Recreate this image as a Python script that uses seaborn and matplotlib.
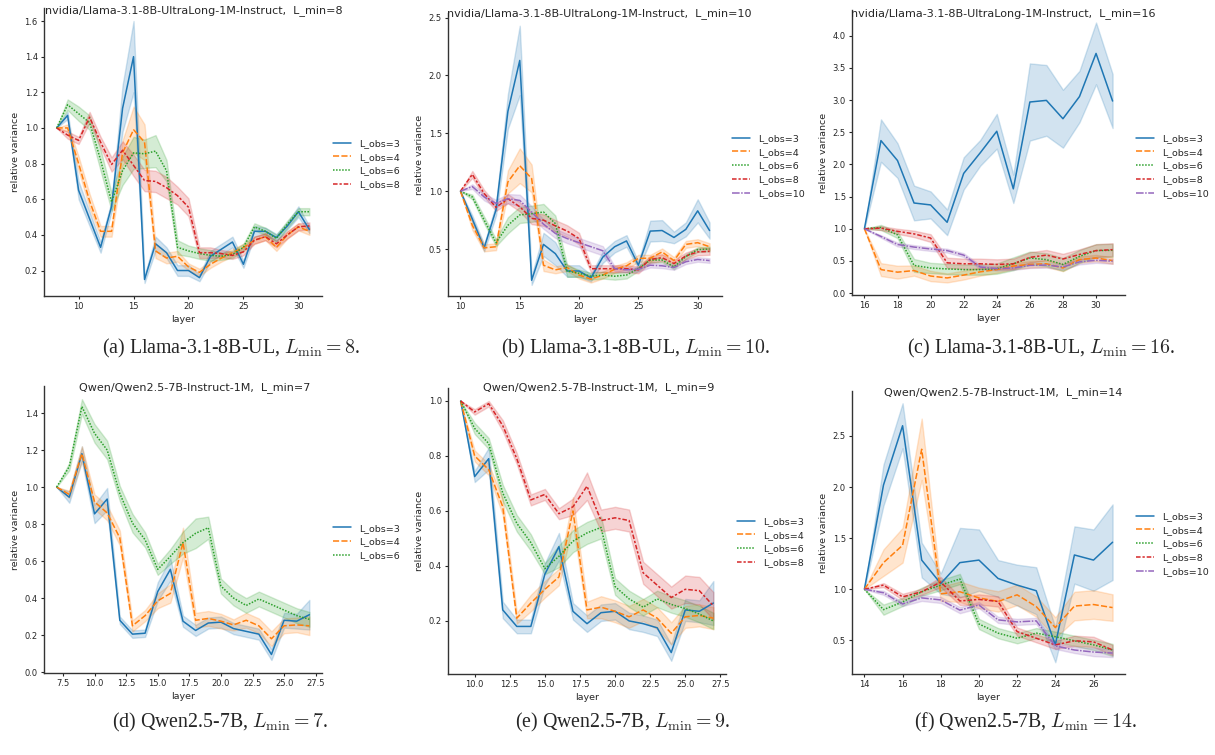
import matplotlib
matplotlib.use("Agg")
import matplotlib.pyplot as plt
import pandas as pd
import seaborn as sns

# ---- data (mean curve and half-width of shaded band) ----
a_layers = list(range(8, 32))
a_obs3 = [1.0, 1.07, 0.65, 0.49, 0.33, 0.56, 1.11, 1.40, 0.15, 0.35, 0.30, 0.20, 0.20, 0.16, 0.28, 0.32, 0.36, 0.235, 0.42, 0.42, 0.385, 0.45, 0.53, 0.43]
a_obs3_band = [0, 0.02, 0.05, 0.04, 0.03, 0.03, 0.13, 0.2, 0.02, 0.04, 0.03, 0.03, 0.03, 0.02, 0.03, 0.03, 0.03, 0.02, 0.03, 0.02, 0.02, 0.02, 0.03, 0.02]
a_obs4 = [1.0, 1.0, 0.80, 0.59, 0.42, 0.42, 0.86, 0.99, 0.92, 0.31, 0.27, 0.28, 0.22, 0.19, 0.235, 0.27, 0.30, 0.33, 0.37, 0.39, 0.33, 0.40, 0.445, 0.42]
a_obs4_band = [0, 0.02, 0.04, 0.04, 0.03, 0.03, 0.07, 0.13, 0.1, 0.04, 0.03, 0.03, 0.02, 0.02, 0.02, 0.02, 0.02, 0.02, 0.02, 0.02, 0.02, 0.02, 0.02, 0.02]
a_obs6 = [1.0, 1.13, 1.08, 1.03, 0.82, 0.585, 0.76, 0.86, 0.855, 0.87, 0.76, 0.33, 0.31, 0.295, 0.285, 0.28, 0.29, 0.33, 0.445, 0.42, 0.38, 0.46, 0.53, 0.53]
a_obs6_band = [0, 0.03, 0.04, 0.04, 0.06, 0.05, 0.08, 0.09, 0.08, 0.09, 0.06, 0.04, 0.03, 0.03, 0.03, 0.02, 0.02, 0.02, 0.02, 0.02, 0.02, 0.02, 0.02, 0.02]
a_obs8 = [1.0, 0.96, 0.93, 1.06, 0.92, 0.795, 0.875, 0.79, 0.705, 0.70, 0.665, 0.62, 0.555, 0.30, 0.30, 0.295, 0.285, 0.305, 0.37, 0.39, 0.35, 0.40, 0.445, 0.45]
a_obs8_band = [0, 0.02, 0.02, 0.03, 0.03, 0.04, 0.05, 0.06, 0.06, 0.06, 0.06, 0.05, 0.05, 0.03, 0.03, 0.02, 0.02, 0.02, 0.02, 0.02, 0.02, 0.02, 0.02, 0.02]

b_layers = list(range(10, 32))
b_obs3 = [1.0, 0.76, 0.51, 0.84, 1.69, 2.13, 0.23, 0.54, 0.46, 0.31, 0.31, 0.25, 0.43, 0.52, 0.57, 0.36, 0.655, 0.66, 0.60, 0.67, 0.83, 0.66]
b_obs3_band = [0, 0.03, 0.03, 0.05, 0.15, 0.3, 0.04, 0.1, 0.1, 0.05, 0.05, 0.03, 0.05, 0.05, 0.05, 0.03, 0.09, 0.09, 0.05, 0.06, 0.1, 0.07]
b_obs4 = [1.0, 0.705, 0.51, 0.52, 1.08, 1.22, 1.11, 0.36, 0.32, 0.34, 0.275, 0.24, 0.275, 0.325, 0.355, 0.42, 0.42, 0.475, 0.40, 0.54, 0.555, 0.52]
b_obs4_band = [0, 0.04, 0.03, 0.03, 0.1, 0.15, 0.12, 0.05, 0.03, 0.03, 0.03, 0.03, 0.03, 0.03, 0.03, 0.03, 0.03, 0.03, 0.03, 0.03, 0.03, 0.03]
b_obs6 = [1.0, 0.95, 0.75, 0.555, 0.705, 0.795, 0.805, 0.82, 0.72, 0.31, 0.29, 0.265, 0.275, 0.265, 0.275, 0.33, 0.405, 0.405, 0.345, 0.435, 0.495, 0.50]
b_obs6_band = [0, 0.02, 0.03, 0.03, 0.07, 0.07, 0.07, 0.07, 0.07, 0.05, 0.03, 0.03, 0.03, 0.03, 0.03, 0.02, 0.02, 0.02, 0.02, 0.02, 0.02, 0.02]
b_obs8 = [1.0, 1.145, 0.98, 0.86, 0.935, 0.865, 0.765, 0.75, 0.70, 0.655, 0.59, 0.33, 0.33, 0.33, 0.33, 0.32, 0.41, 0.425, 0.375, 0.44, 0.475, 0.48]
b_obs8_band = [0, 0.03, 0.03, 0.03, 0.04, 0.04, 0.05, 0.05, 0.05, 0.05, 0.05, 0.03, 0.03, 0.03, 0.03, 0.03, 0.03, 0.03, 0.03, 0.03, 0.03, 0.03]
b_obs10 = [1.0, 1.04, 0.95, 0.895, 0.935, 0.92, 0.82, 0.715, 0.635, 0.59, 0.555, 0.52, 0.485, 0.33, 0.32, 0.325, 0.36, 0.355, 0.34, 0.39, 0.41, 0.40]
b_obs10_band = [0, 0.02, 0.03, 0.03, 0.04, 0.05, 0.05, 0.04, 0.04, 0.04, 0.04, 0.04, 0.04, 0.02, 0.02, 0.02, 0.02, 0.02, 0.02, 0.02, 0.02, 0.02]

c_layers = list(range(16, 32))
c_obs3 = [1.0, 2.37, 2.06, 1.40, 1.37, 1.10, 1.86, 2.18, 2.515, 1.62, 2.97, 2.995, 2.71, 3.055, 3.725, 2.985]
c_obs3_band = [0, 0.33, 0.27, 0.27, 0.21, 0.2, 0.25, 0.2, 0.27, 0.22, 0.6, 0.55, 0.45, 0.4, 0.48, 0.42]
c_obs4 = [1.0, 0.365, 0.325, 0.35, 0.265, 0.235, 0.28, 0.33, 0.365, 0.42, 0.445, 0.455, 0.39, 0.52, 0.545, 0.505]
c_obs4_band = [0, 0.1, 0.1, 0.08, 0.08, 0.07, 0.07, 0.06, 0.05, 0.05, 0.05, 0.05, 0.05, 0.05, 0.05, 0.05]
c_obs6 = [1.0, 1.02, 0.905, 0.43, 0.39, 0.375, 0.365, 0.365, 0.38, 0.455, 0.545, 0.52, 0.445, 0.57, 0.66, 0.665]
c_obs6_band = [0, 0.04, 0.05, 0.1, 0.08, 0.08, 0.08, 0.08, 0.08, 0.1, 0.1, 0.1, 0.1, 0.1, 0.1, 0.1]
c_obs8 = [1.0, 1.01, 0.96, 0.92, 0.855, 0.47, 0.455, 0.455, 0.445, 0.455, 0.555, 0.59, 0.53, 0.60, 0.66, 0.675]
c_obs8_band = [0, 0.03, 0.04, 0.05, 0.06, 0.08, 0.08, 0.08, 0.08, 0.08, 0.08, 0.08, 0.08, 0.08, 0.1, 0.1]
c_obs10 = [1.0, 0.88, 0.755, 0.715, 0.685, 0.66, 0.59, 0.405, 0.38, 0.39, 0.43, 0.435, 0.405, 0.485, 0.51, 0.495]
c_obs10_band = [0, 0.02, 0.03, 0.03, 0.03, 0.03, 0.03, 0.03, 0.03, 0.03, 0.04, 0.04, 0.04, 0.04, 0.04, 0.04]

d_layers = list(range(7, 28))
d_obs3 = [1.0, 0.945, 1.18, 0.855, 0.935, 0.28, 0.205, 0.21, 0.435, 0.555, 0.275, 0.225, 0.265, 0.27, 0.235, 0.22, 0.205, 0.095, 0.28, 0.275, 0.31]
d_obs3_band = [0, 0.03, 0.04, 0.05, 0.06, 0.02, 0.02, 0.02, 0.05, 0.06, 0.03, 0.03, 0.03, 0.03, 0.03, 0.03, 0.03, 0.03, 0.04, 0.04, 0.08]
d_obs4 = [1.0, 0.96, 1.18, 0.92, 0.86, 0.725, 0.25, 0.305, 0.385, 0.425, 0.70, 0.28, 0.29, 0.275, 0.255, 0.28, 0.25, 0.18, 0.25, 0.255, 0.25]
d_obs4_band = [0, 0.02, 0.04, 0.04, 0.04, 0.04, 0.03, 0.03, 0.04, 0.05, 0.08, 0.04, 0.04, 0.04, 0.03, 0.04, 0.04, 0.04, 0.04, 0.04, 0.05]
d_obs6 = [1.0, 1.11, 1.435, 1.29, 1.20, 0.965, 0.805, 0.715, 0.555, 0.625, 0.70, 0.75, 0.78, 0.465, 0.40, 0.36, 0.395, 0.365, 0.335, 0.305, 0.285]
d_obs6_band = [0, 0.02, 0.04, 0.05, 0.05, 0.04, 0.05, 0.04, 0.03, 0.04, 0.06, 0.08, 0.06, 0.04, 0.04, 0.04, 0.04, 0.04, 0.04, 0.04, 0.04]

e_layers = list(range(9, 28))
e_obs3 = [1.0, 0.725, 0.79, 0.24, 0.18, 0.18, 0.37, 0.47, 0.235, 0.19, 0.23, 0.235, 0.20, 0.19, 0.175, 0.085, 0.24, 0.235, 0.265]
e_obs3_band = [0, 0.02, 0.04, 0.03, 0.025, 0.025, 0.04, 0.05, 0.03, 0.03, 0.03, 0.03, 0.03, 0.03, 0.03, 0.03, 0.04, 0.04, 0.08]
e_obs4 = [1.0, 0.80, 0.75, 0.615, 0.21, 0.265, 0.315, 0.36, 0.60, 0.24, 0.25, 0.235, 0.215, 0.24, 0.21, 0.155, 0.215, 0.22, 0.21]
e_obs4_band = [0, 0.02, 0.02, 0.03, 0.02, 0.03, 0.03, 0.03, 0.05, 0.03, 0.04, 0.04, 0.04, 0.04, 0.04, 0.04, 0.04, 0.04, 0.04]
e_obs6 = [1.0, 0.90, 0.845, 0.665, 0.555, 0.485, 0.39, 0.435, 0.49, 0.52, 0.54, 0.325, 0.28, 0.25, 0.28, 0.26, 0.245, 0.225, 0.20]
e_obs6_band = [0, 0.02, 0.02, 0.03, 0.03, 0.03, 0.02, 0.04, 0.04, 0.04, 0.04, 0.03, 0.03, 0.03, 0.03, 0.03, 0.03, 0.03, 0.03]
e_obs8 = [1.0, 0.96, 0.99, 0.91, 0.79, 0.64, 0.66, 0.59, 0.615, 0.69, 0.565, 0.575, 0.565, 0.375, 0.33, 0.285, 0.315, 0.31, 0.255]
e_obs8_band = [0, 0.01, 0.01, 0.02, 0.02, 0.02, 0.02, 0.02, 0.03, 0.05, 0.04, 0.04, 0.04, 0.04, 0.04, 0.04, 0.05, 0.05, 0.05]

f_layers = list(range(14, 28))
f_obs3 = [1.0, 2.02, 2.60, 1.285, 1.055, 1.26, 1.285, 1.105, 1.04, 0.985, 0.455, 1.335, 1.285, 1.46]
f_obs3_band = [0, 0.2, 0.22, 0.17, 0.1, 0.34, 0.3, 0.18, 0.2, 0.23, 0.17, 0.28, 0.3, 0.37]
f_obs4 = [1.0, 1.26, 1.43, 2.37, 0.955, 0.975, 0.915, 0.88, 0.945, 0.83, 0.625, 0.835, 0.85, 0.82]
f_obs4_band = [0, 0.13, 0.17, 0.3, 0.07, 0.1, 0.1, 0.1, 0.1, 0.1, 0.1, 0.14, 0.14, 0.13]
f_obs6 = [1.0, 0.80, 0.875, 0.975, 1.04, 1.10, 0.66, 0.57, 0.52, 0.57, 0.535, 0.495, 0.455, 0.405]
f_obs6_band = [0, 0.05, 0.04, 0.04, 0.05, 0.05, 0.05, 0.05, 0.05, 0.05, 0.05, 0.05, 0.05, 0.06]
f_obs8 = [1.0, 1.04, 0.925, 0.975, 1.07, 0.885, 0.90, 0.88, 0.585, 0.52, 0.455, 0.495, 0.485, 0.405]
f_obs8_band = [0, 0.02, 0.03, 0.03, 0.05, 0.04, 0.05, 0.05, 0.04, 0.04, 0.04, 0.05, 0.05, 0.05]
f_obs10 = [1.0, 0.965, 0.855, 0.915, 0.895, 0.795, 0.845, 0.70, 0.68, 0.69, 0.445, 0.405, 0.385, 0.375]
f_obs10_band = [0, 0.02, 0.02, 0.03, 0.03, 0.03, 0.03, 0.03, 0.03, 0.03, 0.03, 0.03, 0.04, 0.04]

titles = [
    "nvidia/Llama-3.1-8B-UltraLong-1M-Instruct,  L_min=8",
    "nvidia/Llama-3.1-8B-UltraLong-1M-Instruct,  L_min=10",
    "nvidia/Llama-3.1-8B-UltraLong-1M-Instruct,  L_min=16",
    "Qwen/Qwen2.5-7B-Instruct-1M,  L_min=7",
    "Qwen/Qwen2.5-7B-Instruct-1M,  L_min=9",
    "Qwen/Qwen2.5-7B-Instruct-1M,  L_min=14",
]
captions = [
    r"(a) Llama-3.1-8B-UL, $L_{\min}=8$.",
    r"(b) Llama-3.1-8B-UL, $L_{\min}=10$.",
    r"(c) Llama-3.1-8B-UL, $L_{\min}=16$.",
    r"(d) Qwen2.5-7B, $L_{\min}=7$.",
    r"(e) Qwen2.5-7B, $L_{\min}=9$.",
    r"(f) Qwen2.5-7B, $L_{\min}=14$.",
]

panels = [
    (a_layers, [("L_obs=3", a_obs3, a_obs3_band), ("L_obs=4", a_obs4, a_obs4_band),
                ("L_obs=6", a_obs6, a_obs6_band), ("L_obs=8", a_obs8, a_obs8_band)]),
    (b_layers, [("L_obs=3", b_obs3, b_obs3_band), ("L_obs=4", b_obs4, b_obs4_band),
                ("L_obs=6", b_obs6, b_obs6_band), ("L_obs=8", b_obs8, b_obs8_band),
                ("L_obs=10", b_obs10, b_obs10_band)]),
    (c_layers, [("L_obs=3", c_obs3, c_obs3_band), ("L_obs=4", c_obs4, c_obs4_band),
                ("L_obs=6", c_obs6, c_obs6_band), ("L_obs=8", c_obs8, c_obs8_band),
                ("L_obs=10", c_obs10, c_obs10_band)]),
    (d_layers, [("L_obs=3", d_obs3, d_obs3_band), ("L_obs=4", d_obs4, d_obs4_band),
                ("L_obs=6", d_obs6, d_obs6_band)]),
    (e_layers, [("L_obs=3", e_obs3, e_obs3_band), ("L_obs=4", e_obs4, e_obs4_band),
                ("L_obs=6", e_obs6, e_obs6_band), ("L_obs=8", e_obs8, e_obs8_band)]),
    (f_layers, [("L_obs=3", f_obs3, f_obs3_band), ("L_obs=4", f_obs4, f_obs4_band),
                ("L_obs=6", f_obs6, f_obs6_band), ("L_obs=8", f_obs8, f_obs8_band),
                ("L_obs=10", f_obs10, f_obs10_band)]),
]

# ---- layout (pixels of the 1215x755 picture) ----
W, H = 1215, 755
# left, top, right, bottom
boxes = [(44, 8, 322, 296), (448, 13, 722, 296), (852, 10, 1125, 295),
         (44, 386, 322, 673), (448, 388, 726, 674), (852, 391, 1125, 674)]
ylims = [(0.057, 1.673), (0.094, 2.54), (-0.03, 4.4),
         (-0.005, 1.546), (0.007, 1.047), (0.17, 2.94)]
title_pos = [(194, 11), (599, 14), (1003, 14), (195, 388), (599, 388), (1003, 393)]
legend_pos = [(324, 164), (723, 166), (1127, 166), (324, 542), (728, 542), (1127, 544)]
caption_pos = [(231, 348), (636, 348), (1041, 348), (220, 722), (622, 722), (1025, 722)]

sns.set_style("ticks")
plt.rcParams.update({
    "axes.linewidth": 1.0,
    "axes.edgecolor": ".2",
    "xtick.major.size": 2.5,
    "ytick.major.size": 2.5,
    "xtick.major.width": 0.8,
    "ytick.major.width": 0.8,
    "xtick.labelsize": 6.0,
    "ytick.labelsize": 6.0,
    "axes.labelsize": 6.8,
    "mathtext.fontset": "cm",
})

colors = sns.color_palette("tab10")

fig = plt.figure(figsize=(W / 100, H / 100), dpi=100)

for i, (layers, series) in enumerate(panels):
    rows = []
    for name, mean, band in series:
        for layer, m, h in zip(layers, mean, band):
            rows.append({"layer": layer, "value": m - h, "L_obs": name})
            rows.append({"layer": layer, "value": m + h, "L_obs": name})
    df = pd.DataFrame(rows)

    l, t, r, b = boxes[i]
    ax = fig.add_axes([l / W, 1 - b / H, (r - l) / W, (b - t) / H])
    # band = min..max of the two bound rows, line = their mean
    sns.lineplot(data=df, x="layer", y="value", hue="L_obs", style="L_obs",
                 errorbar=("pi", 100), palette=colors[:len(series)],
                 linewidth=1.1, ax=ax)
    ax.set_ylim(*ylims[i])
    ax.set_xlabel("layer")
    ax.set_ylabel("relative variance")
    ax.yaxis.labelpad = 3
    ax.xaxis.labelpad = 3
    ax.tick_params(pad=2)
    sns.despine(ax=ax)

    handles, labels = ax.get_legend_handles_labels()
    ax.get_legend().remove()
    lx, ly = legend_pos[i]
    ax.legend(handles, labels, loc="center left", bbox_to_anchor=(lx / W, 1 - ly / H),
              bbox_transform=fig.transFigure, frameon=False, fontsize=6.8,
              handlelength=2.0, handletextpad=0.8, labelspacing=0.5)

    tx, ty = title_pos[i]
    fig.text(tx / W, 1 - ty / H, titles[i], ha="center", va="center", fontsize=8)

    cx, cy = caption_pos[i]
    fig.text(cx / W, 1 - cy / H, captions[i], ha="center", va="center",
             fontsize=14.3, family="Liberation Serif")

fig.savefig("out.png", dpi=100)
